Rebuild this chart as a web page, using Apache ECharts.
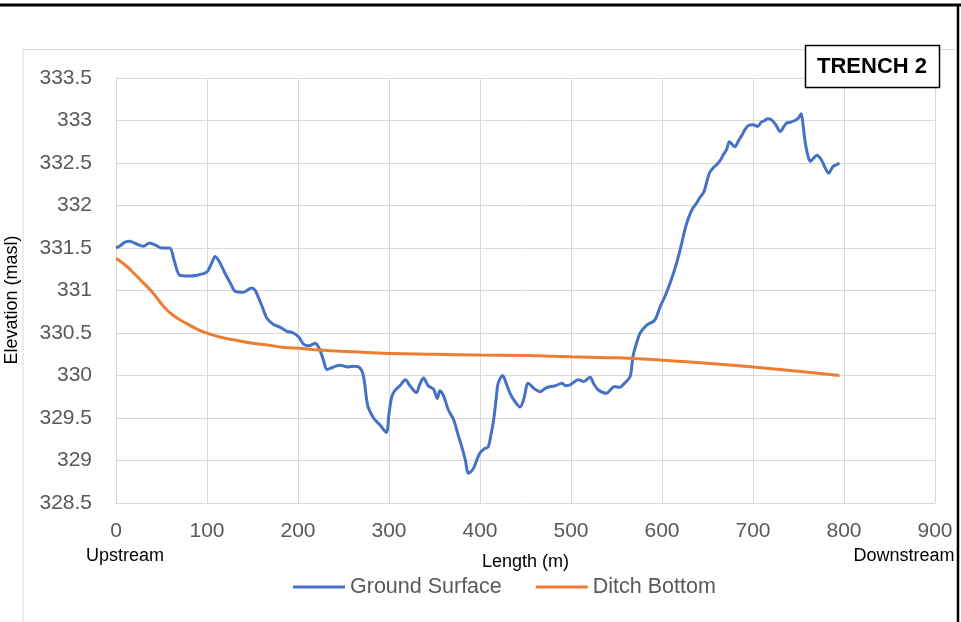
<!DOCTYPE html>
<html>
<head>
<meta charset="utf-8">
<script src="https://cdn.jsdelivr.net/npm/echarts@6/dist/echarts.min.js"></script>
<style>
html,body{margin:0;padding:0;background:#fff;}
#c{width:961px;height:622px;}
</style>
</head>
<body>
<div id="c"></div>
<script>
// Ground surface: [length (m), elevation (masl)]
var groundX = [0,5,10,15,22,30,37,44,50,59,64,70,80,89,100,105,109,114,120,126,131,140,149,153,156,161,166,173,180,188,195,201,206,212,219,224,228,232,239,246,255,262,268,272,275,277,283,290,297,300,303,307,312,318,323,330,334,338,343,349,353,356,360,365,371,376,380,384,387,390,393,397,400,405,409,412,415,418,420,425,429,433,438,444,448,453,459,466,472,477,483,490,494,499,503,508,514,521,525,530,535,539,544,548,553,559,565,568,572,576,583,592,598,604,609,614,618,622,625,629,633,638,642,646,652,656,660,664,667,671,674,677,680,684,688,691,695,700,705,709,713,716,720,725,730,734,737,741,746,750,753,755,757,760,763,766,770,775,779,783,788,792,795];
var groundY = [331.5,331.53,331.57,331.58,331.55,331.52,331.56,331.53,331.5,331.5,331.35,331.18,331.17,331.18,331.22,331.32,331.4,331.33,331.2,331.08,330.99,330.98,331.03,331.0,330.93,330.8,330.67,330.6,330.57,330.52,330.5,330.45,330.37,330.35,330.38,330.3,330.18,330.07,330.1,330.12,330.1,330.11,330.09,329.99,329.75,329.63,329.5,329.42,329.33,329.55,329.75,329.83,329.88,329.95,329.88,329.8,329.9,329.97,329.88,329.84,329.73,329.82,329.76,329.6,329.48,329.3,329.16,329.0,328.85,328.87,328.91,329.02,329.09,329.14,329.16,329.3,329.48,329.75,329.91,330.0,329.9,329.79,329.7,329.63,329.72,329.91,329.85,329.81,329.85,329.87,329.88,329.91,329.88,329.89,329.92,329.95,329.93,329.98,329.9,329.83,329.8,329.79,329.84,329.87,329.86,329.91,329.99,330.22,330.38,330.5,330.59,330.65,330.81,330.95,331.09,331.25,331.4,331.57,331.71,331.85,331.95,332.03,332.1,332.16,332.38,332.44,332.48,332.53,332.59,332.66,332.75,332.72,332.69,332.76,332.83,332.89,332.94,332.95,332.93,332.98,333.0,333.02,333.01,332.95,332.87,332.93,332.97,332.98,333.0,333.03,333.08,332.95,332.77,332.6,332.52,332.55,332.59,332.54,332.45,332.38,332.46,332.48,332.5];

// Ditch bottom
var ditchX = [0,10,20,30,40,56,68,78,90,100,115,129,150,166,185,202,224,260,301,350,400,450,499,540,568,600,642,700,750,795];
var ditchY = [331.38,331.3,331.2,331.09,330.98,330.77,330.67,330.61,330.54,330.5,330.45,330.42,330.38,330.36,330.33,330.32,330.3,330.28,330.26,330.25,330.24,330.235,330.22,330.21,330.2,330.18,330.15,330.1,330.05,330.0];

var xTicks = [0,100,200,300,400,500,600,700,800,900];
var yTicks = [328.5,329,329.5,330,330.5,331,331.5,332,332.5,333,333.5];
var seriesNames = ['Ground Surface','Ditch Bottom'];

function pairs(xs, ys){ return xs.map(function(x,i){ return [x, ys[i]]; }); }

var FF = 'Liberation Sans, Arial, sans-serif';
var chart = echarts.init(document.getElementById('c'), null, {renderer:'canvas'});
var labelFont = {color:'#595959', fontFamily:FF, fontSize:21};
chart.setOption({
  backgroundColor:'#ffffff',
  animation:false,
  grid:{left:116, top:78, right:26, bottom:119, containLabel:false, outerBoundsMode:'none'},
  xAxis:{
    type:'value', min:xTicks[0], max:xTicks[xTicks.length-1], interval:100,
    name:'Length (m)', nameLocation:'middle', nameGap:50,
    nameTextStyle:{color:'#000', fontFamily:FF, fontSize:18, verticalAlign:'top'},
    axisLine:{show:true, lineStyle:{color:'#d9d9d9', width:1}},
    axisTick:{show:false},
    splitLine:{show:true, lineStyle:{color:'#d9d9d9', width:1}},
    axisLabel:Object.assign({margin:18}, labelFont)
  },
  yAxis:{
    type:'value', min:yTicks[0], max:yTicks[yTicks.length-1], interval:0.5,
    axisLine:{show:true, lineStyle:{color:'#d9d9d9', width:1}},
    axisTick:{show:false},
    splitLine:{show:true, lineStyle:{color:'#d9d9d9', width:1}},
    axisLabel:Object.assign({margin:24, formatter:function(v){return String(Math.round(v*10)/10);}}, labelFont)
  },
  legend:{
    data:seriesNames, left:288, top:571,
    icon:'rect', itemWidth:52, itemHeight:3, itemGap:34,
    textStyle:{color:'#595959', fontFamily:FF, fontSize:21.5}
  },
  series:[
    {name:seriesNames[0], type:'line', data:pairs(groundX, groundY), showSymbol:false, smooth:0.3,
     lineStyle:{color:'#4472C4', width:3}, itemStyle:{color:'#4472C4'}},
    {name:seriesNames[1], type:'line', data:pairs(ditchX, ditchY), showSymbol:false, smooth:0.5,
     lineStyle:{color:'#ED7D31', width:3}, itemStyle:{color:'#ED7D31'}}
  ],
  graphic:[
    {type:'line', shape:{x1:0,y1:5,x2:961,y2:5}, style:{stroke:'#000', lineWidth:3}},
    {type:'line', shape:{x1:958,y1:4,x2:958,y2:622}, style:{stroke:'#000', lineWidth:2.5}},
    {type:'line', shape:{x1:23,y1:49.5,x2:957,y2:49.5}, style:{stroke:'#d9d9d9', lineWidth:1}},
    {type:'line', shape:{x1:23,y1:49,x2:23,y2:622}, style:{stroke:'#d9d9d9', lineWidth:1}},
    {type:'rect', shape:{x:805.5,y:45.5,width:134,height:42}, style:{fill:'#fff', stroke:'#000', lineWidth:1.5}, z:10},
    {type:'text', x:872, y:67, style:{text:'TRENCH 2', fill:'#000', font:'bold 22px Liberation Sans, Arial, sans-serif', align:'center', verticalAlign:'middle'}, z:11},
    {type:'text', x:125, y:556, style:{text:'Upstream', fill:'#000', font:'18px Liberation Sans, Arial, sans-serif', align:'center', verticalAlign:'middle'}},
    {type:'text', x:904, y:556, style:{text:'Downstream', fill:'#000', font:'18px Liberation Sans, Arial, sans-serif', align:'center', verticalAlign:'middle'}},
    {type:'text', x:12, y:300, rotation:Math.PI/2, style:{text:'Elevation (masl)', fill:'#000', font:'18px Liberation Sans, Arial, sans-serif', align:'center', verticalAlign:'middle'}}
  ]
});
</script>
</body>
</html>
